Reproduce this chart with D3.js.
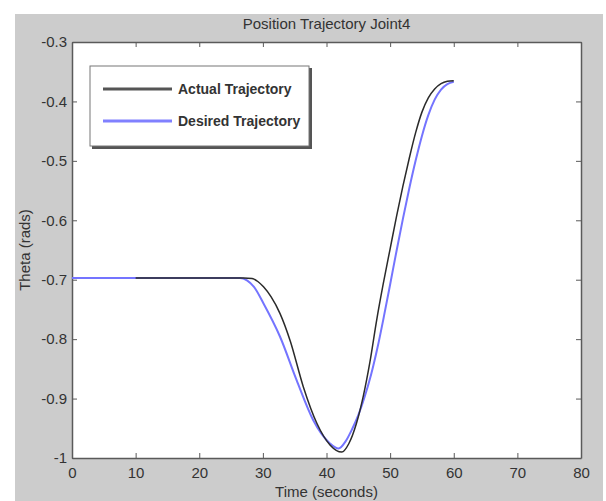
<!DOCTYPE html>
<html>
<head>
<meta charset="utf-8">
<script src="https://cdn.jsdelivr.net/npm/d3@7"></script>
<style>
  body { margin: 0; background: #fff; }
  text { font-family: Arial, "Liberation Sans", sans-serif; fill: #333; }
</style>
</head>
<body>
<div id="chart"></div>
<script>
// desired trajectory (blue)
var desiredTime = [0, 10, 26.4, 27.5, 28.6, 30.1, 32.7, 35.3, 37.9, 40.5, 41.9, 43, 44, 45, 46, 47, 48, 49, 50, 51, 52, 53, 54, 55, 56, 57, 58, 59, 60];
var desiredTheta = [-0.697, -0.697, -0.697, -0.701, -0.712, -0.740, -0.796, -0.869, -0.936, -0.975, -0.984, -0.972, -0.952, -0.928, -0.897, -0.860, -0.815, -0.763, -0.708, -0.652, -0.598, -0.547, -0.500, -0.458, -0.423, -0.397, -0.380, -0.371, -0.367];

// actual trajectory (black)
var actualTime = [10, 27, 28.3, 29.2, 30.1, 31.3, 32.7, 34.3, 36.35, 38.5, 40.55, 42.4, 43.5, 44.7, 45.8, 46.8, 47.9, 48.9, 50, 51, 52, 53, 54, 55, 56, 57, 58, 59, 60];
var actualTheta = [-0.697, -0.697, -0.698, -0.703, -0.712, -0.729, -0.757, -0.803, -0.880, -0.942, -0.978, -0.990, -0.976, -0.942, -0.895, -0.840, -0.767, -0.708, -0.648, -0.594, -0.543, -0.496, -0.453, -0.418, -0.394, -0.379, -0.370, -0.366, -0.365];

var xTicks = [0, 10, 20, 30, 40, 50, 60, 70, 80];
var yTicks = [-0.3, -0.4, -0.5, -0.6, -0.7, -0.8, -0.9, -1];
var legendLabels = ["Actual Trajectory", "Desired Trajectory"];

var svg_width = 606, svg_height = 501;
var svg = d3.select("#chart").append("svg")
  .attr("width", svg_width)
  .attr("height", svg_height);

// gray figure background
svg.append("rect")
  .attr("x", 15).attr("y", 14)
  .attr("width", 588).attr("height", 487)
  .attr("fill", "#cccccc");

var margin = {top: 42, right: 25, bottom: 43, left: 72};
var w = svg_width - margin.left - margin.right;
var h = svg_height - margin.top - margin.bottom;

var g = svg.append("g")
  .attr("transform", "translate(" + margin.left + "," + margin.top + ")");

var x = d3.scaleLinear().domain([0, 80]).range([0, w]);
var y = d3.scaleLinear().domain([-1, -0.3]).range([h, 0]);

g.append("rect")
  .attr("width", w).attr("height", h)
  .attr("fill", "#fff");

var fmtY = function(d) { return d === -1 ? "-1" : d.toFixed(1); };

function styleAxis(sel) {
  sel.selectAll("path").attr("stroke", "#5a5a5a").attr("stroke-width", 1.5);
  sel.selectAll("line").attr("stroke", "#5a5a5a");
  sel.selectAll("text").attr("font-size", "15px").attr("fill", "#333");
}

g.append("g")
  .attr("transform", "translate(0," + h + ")")
  .call(d3.axisBottom(x).tickValues(xTicks).tickSizeInner(-5).tickSizeOuter(0).tickPadding(9))
  .call(styleAxis);
g.append("g")
  .call(d3.axisTop(x).tickValues(xTicks).tickSizeInner(-5).tickSizeOuter(0).tickFormat(""))
  .call(styleAxis);
g.append("g")
  .call(d3.axisLeft(y).tickValues(yTicks).tickSizeInner(-5).tickSizeOuter(0).tickPadding(5).tickFormat(fmtY))
  .call(styleAxis);
g.append("g")
  .attr("transform", "translate(" + w + ",0)")
  .call(d3.axisRight(y).tickValues(yTicks).tickSizeInner(-5).tickSizeOuter(0).tickFormat(""))
  .call(styleAxis);

// lines
var line = d3.line()
  .x(function(d) { return x(d[0]); })
  .y(function(d) { return y(d[1]); })
  .curve(d3.curveMonotoneX);

g.append("path")
  .datum(d3.zip(desiredTime, desiredTheta))
  .attr("fill", "none")
  .attr("stroke", "#7474ff")
  .attr("stroke-width", 2)
  .attr("d", line);

g.append("path")
  .datum(d3.zip(actualTime, actualTheta))
  .attr("fill", "none")
  .attr("stroke", "#2a2a2a")
  .attr("stroke-width", 1.5)
  .attr("d", line);

// title and axis labels
svg.append("text")
  .attr("x", margin.left + w / 2)
  .attr("y", 29)
  .attr("text-anchor", "middle")
  .attr("font-size", "15px")
  .text("Position Trajectory Joint4");

svg.append("text")
  .attr("x", margin.left + w / 2)
  .attr("y", 497)
  .attr("text-anchor", "middle")
  .attr("font-size", "15px")
  .text("Time (seconds)");

svg.append("text")
  .attr("transform", "translate(30," + (margin.top + h / 2) + ") rotate(-90)")
  .attr("text-anchor", "middle")
  .attr("font-size", "15px")
  .text("Theta (rads)");

// legend
var legend = svg.append("g").attr("transform", "translate(90,66)");
legend.append("rect")
  .attr("x", 2).attr("y", 2)
  .attr("width", 220).attr("height", 81)
  .attr("fill", "#555");
legend.append("rect")
  .attr("width", 219).attr("height", 80)
  .attr("fill", "#fff")
  .attr("stroke", "#777")
  .attr("stroke-width", 1);

var legendColors = ["#555555", "#8080ff"];
legendLabels.forEach(function(label, i) {
  var ly = 23 + i * 32;
  legend.append("line")
    .attr("x1", 13).attr("x2", 82)
    .attr("y1", ly).attr("y2", ly)
    .attr("stroke", legendColors[i])
    .attr("stroke-width", 3);
  legend.append("text")
    .attr("x", 88).attr("y", ly + 5)
    .attr("font-size", "14px")
    .attr("font-weight", "bold")
    .attr("fill", "#3a3a3a")
    .text(label);
});
</script>
</body>
</html>
